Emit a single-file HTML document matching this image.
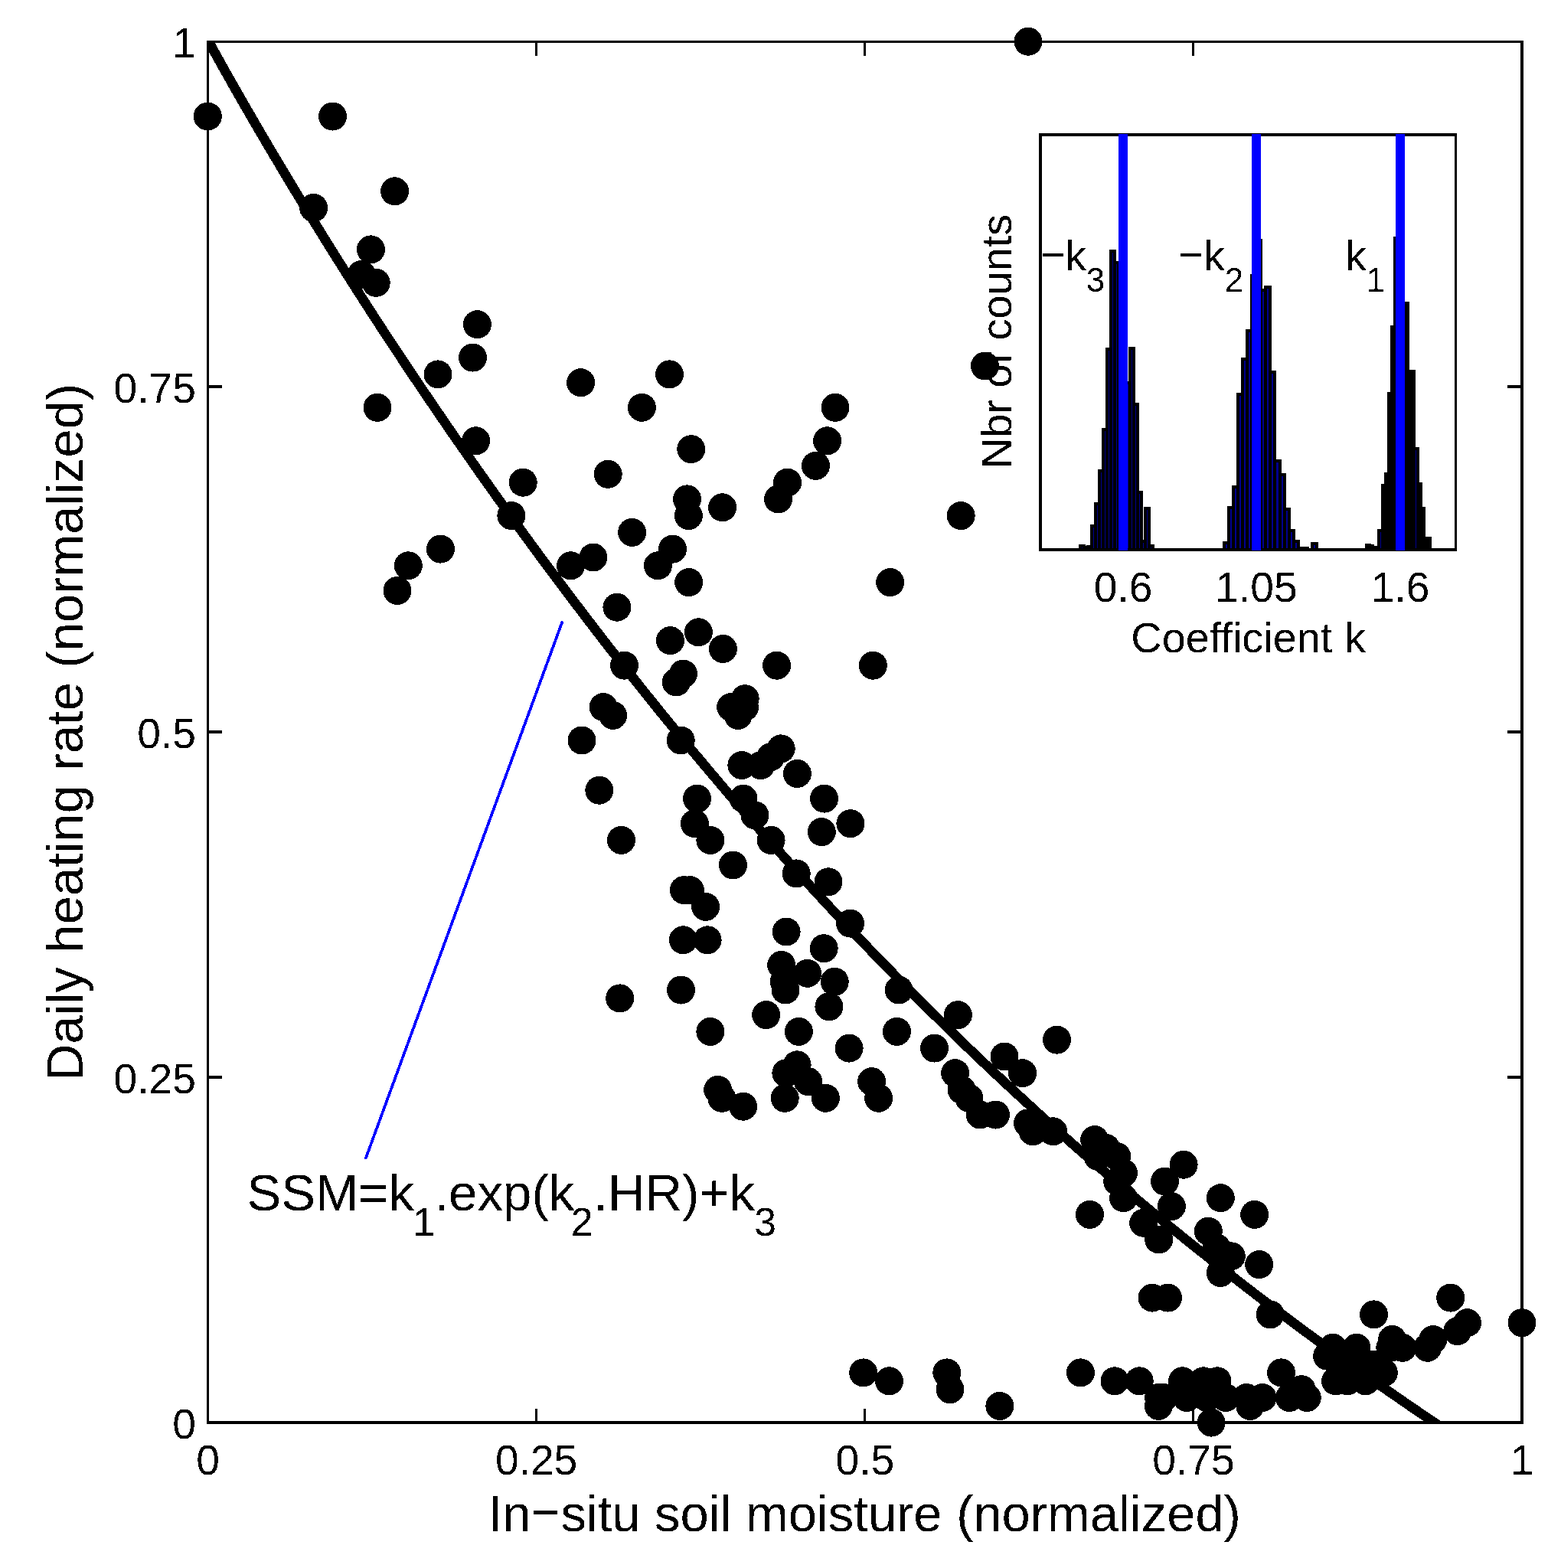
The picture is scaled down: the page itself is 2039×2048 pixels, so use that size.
<!DOCTYPE html>
<html><head><meta charset="utf-8"><title>Soil moisture vs daily heating rate</title>
<style>html,body{margin:0;padding:0;background:#fff}body{width:2039px;height:2048px;overflow:hidden}svg{display:block}</style>
</head><body>
<svg width="2039" height="2048" viewBox="0 0 2039 2048" font-family='"Liberation Sans", Arial, Helvetica, sans-serif' fill="#000">
<rect x="0" y="0" width="2039" height="2048" fill="#fff"/>
<defs><filter id="al" x="-5%" y="-20%" width="110%" height="140%" color-interpolation-filters="sRGB"><feComponentTransfer><feFuncA type="discrete" tableValues="0 1"/></feComponentTransfer></filter></defs>
<clipPath id="cp"><rect x="270" y="53" width="1720" height="1807"/></clipPath>
<path d="M264.7,40.0 L271.4,52.3 L278.3,64.6 L285.1,76.9 L292.0,89.3 L299.0,101.6 L305.9,113.9 L313.0,126.2 L320.0,138.5 L327.2,150.8 L334.3,163.2 L341.5,175.5 L348.8,187.8 L356.0,200.1 L363.4,212.4 L370.7,224.7 L378.1,237.0 L385.6,249.4 L393.1,261.7 L400.6,274.0 L408.2,286.3 L415.8,298.6 L423.4,310.9 L431.1,323.3 L438.8,335.6 L446.6,347.9 L454.4,360.2 L462.2,372.5 L470.1,384.8 L478.0,397.1 L486.0,409.5 L494.0,421.8 L502.0,434.1 L510.1,446.4 L518.3,458.7 L526.4,471.0 L534.6,483.4 L542.9,495.7 L551.2,508.0 L559.5,520.3 L567.9,532.6 L576.3,544.9 L584.7,557.2 L593.2,569.6 L601.8,581.9 L610.4,594.2 L619.0,606.5 L627.6,618.8 L636.4,631.1 L645.1,643.5 L653.9,655.8 L662.8,668.1 L671.7,680.4 L680.6,692.7 L689.6,705.0 L698.6,717.3 L707.7,729.7 L716.9,742.0 L726.0,754.3 L735.3,766.6 L744.6,778.9 L753.9,791.2 L763.3,803.6 L772.7,815.9 L782.2,828.2 L791.7,840.5 L801.3,852.8 L811.0,865.1 L820.7,877.4 L830.5,889.8 L840.3,902.1 L850.2,914.4 L860.1,926.7 L870.1,939.0 L880.2,951.3 L890.3,963.7 L900.5,976.0 L910.8,988.3 L921.1,1000.6 L931.5,1012.9 L941.9,1025.2 L952.4,1037.6 L963.0,1049.9 L973.7,1062.2 L984.4,1074.5 L995.2,1086.8 L1006.1,1099.1 L1017.0,1111.4 L1028.0,1123.8 L1039.1,1136.1 L1050.3,1148.4 L1061.5,1160.7 L1072.9,1173.0 L1084.3,1185.3 L1095.8,1197.7 L1107.4,1210.0 L1119.0,1222.3 L1130.8,1234.6 L1142.6,1246.9 L1154.5,1259.2 L1166.6,1271.5 L1178.7,1283.9 L1190.9,1296.2 L1203.2,1308.5 L1215.6,1320.8 L1228.1,1333.1 L1240.6,1345.4 L1253.3,1357.8 L1266.1,1370.1 L1279.0,1382.4 L1292.0,1394.7 L1305.1,1407.0 L1318.3,1419.3 L1331.6,1431.6 L1345.1,1444.0 L1358.6,1456.3 L1372.3,1468.6 L1386.1,1480.9 L1400.0,1493.2 L1414.0,1505.5 L1428.1,1517.9 L1442.4,1530.2 L1456.7,1542.5 L1471.2,1554.8 L1485.9,1567.1 L1500.6,1579.4 L1515.5,1591.7 L1530.6,1604.1 L1545.7,1616.4 L1561.0,1628.7 L1576.5,1641.0 L1592.1,1653.3 L1607.8,1665.6 L1623.7,1678.0 L1639.7,1690.3 L1655.9,1702.6 L1672.2,1714.9 L1688.7,1727.2 L1705.3,1739.5 L1722.1,1751.8 L1739.0,1764.2 L1756.1,1776.5 L1773.4,1788.8 L1790.8,1801.1 L1808.4,1813.4 L1826.2,1825.7 L1844.2,1838.1 L1862.3,1850.4 L1880.6,1862.7 L1899.1,1875.0" fill="none" stroke="#000" stroke-width="12.6" stroke-linejoin="round" clip-path="url(#cp)" shape-rendering="crispEdges"/>
<line x1="734.7" y1="811.4" x2="477.4" y2="1513.9" stroke="#0000ff" stroke-width="3.7" shape-rendering="crispEdges"/>
<g shape-rendering="crispEdges">
<rect x="270" y="53" width="1720" height="3"/>
<rect x="270" y="1856" width="1720" height="4"/>
<rect x="270" y="53" width="3" height="1807"/>
<rect x="1986" y="53" width="4" height="1807"/>
<rect x="699" y="53" width="3" height="20"/>
<rect x="699" y="1840" width="3" height="20"/>
<rect x="270" y="1405" width="20" height="4"/>
<rect x="1969" y="1405" width="21" height="4"/>
<rect x="1128" y="53" width="3" height="20"/>
<rect x="1128" y="1840" width="3" height="20"/>
<rect x="270" y="954" width="20" height="4"/>
<rect x="1969" y="954" width="21" height="4"/>
<rect x="1557" y="53" width="3" height="20"/>
<rect x="1557" y="1840" width="3" height="20"/>
<rect x="270" y="503" width="20" height="4"/>
<rect x="1969" y="503" width="21" height="4"/>
</g>
<g shape-rendering="crispEdges">
<circle cx="271.3" cy="152.0" r="18.5"/>
<circle cx="434.5" cy="152.0" r="18.5"/>
<circle cx="515.6" cy="249.8" r="18.5"/>
<circle cx="409.6" cy="271.5" r="18.5"/>
<circle cx="484.4" cy="325.9" r="18.5"/>
<circle cx="472.2" cy="358.5" r="18.5"/>
<circle cx="491.2" cy="369.3" r="18.5"/>
<circle cx="623.4" cy="423.7" r="18.5"/>
<circle cx="617.5" cy="467.1" r="18.5"/>
<circle cx="572.0" cy="488.9" r="18.5"/>
<circle cx="493.0" cy="532.3" r="18.5"/>
<circle cx="758.6" cy="499.7" r="18.5"/>
<circle cx="874.5" cy="488.9" r="18.5"/>
<circle cx="838.4" cy="532.3" r="18.5"/>
<circle cx="1091.0" cy="532.3" r="18.5"/>
<circle cx="1343.0" cy="54.2" r="18.5"/>
<circle cx="1286.4" cy="478.0" r="18.5"/>
<circle cx="621.6" cy="575.8" r="18.5"/>
<circle cx="683.2" cy="630.2" r="18.5"/>
<circle cx="667.9" cy="673.6" r="18.5"/>
<circle cx="575.4" cy="717.1" r="18.5"/>
<circle cx="533.3" cy="738.8" r="18.5"/>
<circle cx="519.0" cy="771.4" r="18.5"/>
<circle cx="745.5" cy="738.8" r="18.5"/>
<circle cx="902.8" cy="586.7" r="18.5"/>
<circle cx="1080.6" cy="575.8" r="18.5"/>
<circle cx="1065.5" cy="608.4" r="18.5"/>
<circle cx="1028.6" cy="630.2" r="18.5"/>
<circle cx="1016.6" cy="651.9" r="18.5"/>
<circle cx="794.2" cy="619.3" r="18.5"/>
<circle cx="897.6" cy="651.9" r="18.5"/>
<circle cx="899.4" cy="673.6" r="18.5"/>
<circle cx="943.6" cy="662.8" r="18.5"/>
<circle cx="825.6" cy="695.4" r="18.5"/>
<circle cx="878.6" cy="717.1" r="18.5"/>
<circle cx="859.4" cy="738.8" r="18.5"/>
<circle cx="774.9" cy="728.0" r="18.5"/>
<circle cx="899.7" cy="760.6" r="18.5"/>
<circle cx="1162.7" cy="760.6" r="18.5"/>
<circle cx="1255.2" cy="673.6" r="18.5"/>
<circle cx="805.9" cy="793.2" r="18.5"/>
<circle cx="875.5" cy="836.6" r="18.5"/>
<circle cx="912.4" cy="825.8" r="18.5"/>
<circle cx="944.4" cy="847.5" r="18.5"/>
<circle cx="815.5" cy="869.2" r="18.5"/>
<circle cx="1014.6" cy="869.2" r="18.5"/>
<circle cx="1140.3" cy="869.2" r="18.5"/>
<circle cx="892.4" cy="880.1" r="18.5"/>
<circle cx="883.3" cy="891.0" r="18.5"/>
<circle cx="973.2" cy="912.7" r="18.5"/>
<circle cx="954.7" cy="923.6" r="18.5"/>
<circle cx="964.1" cy="934.4" r="18.5"/>
<circle cx="972.5" cy="923.6" r="18.5"/>
<circle cx="788.2" cy="923.6" r="18.5"/>
<circle cx="800.6" cy="934.4" r="18.5"/>
<circle cx="760.0" cy="967.0" r="18.5"/>
<circle cx="889.2" cy="967.0" r="18.5"/>
<circle cx="1020.2" cy="977.9" r="18.5"/>
<circle cx="968.9" cy="999.6" r="18.5"/>
<circle cx="993.8" cy="999.6" r="18.5"/>
<circle cx="1006.5" cy="988.8" r="18.5"/>
<circle cx="1041.4" cy="1010.5" r="18.5"/>
<circle cx="782.8" cy="1032.2" r="18.5"/>
<circle cx="910.6" cy="1043.1" r="18.5"/>
<circle cx="971.0" cy="1043.1" r="18.5"/>
<circle cx="1076.6" cy="1043.1" r="18.5"/>
<circle cx="986.0" cy="1064.8" r="18.5"/>
<circle cx="907.4" cy="1075.7" r="18.5"/>
<circle cx="927.9" cy="1097.4" r="18.5"/>
<circle cx="1007.1" cy="1097.4" r="18.5"/>
<circle cx="1073.3" cy="1086.6" r="18.5"/>
<circle cx="811.5" cy="1097.4" r="18.5"/>
<circle cx="957.4" cy="1130.0" r="18.5"/>
<circle cx="1040.2" cy="1140.9" r="18.5"/>
<circle cx="1082.0" cy="1151.8" r="18.5"/>
<circle cx="893.4" cy="1162.6" r="18.5"/>
<circle cx="901.4" cy="1162.6" r="18.5"/>
<circle cx="921.6" cy="1184.4" r="18.5"/>
<circle cx="892.4" cy="1227.8" r="18.5"/>
<circle cx="924.1" cy="1227.8" r="18.5"/>
<circle cx="1027.1" cy="1217.0" r="18.5"/>
<circle cx="1076.2" cy="1238.7" r="18.5"/>
<circle cx="1020.7" cy="1260.4" r="18.5"/>
<circle cx="1054.7" cy="1271.3" r="18.5"/>
<circle cx="1024.2" cy="1282.2" r="18.5"/>
<circle cx="1026.0" cy="1293.0" r="18.5"/>
<circle cx="1090.2" cy="1282.2" r="18.5"/>
<circle cx="1082.9" cy="1314.8" r="18.5"/>
<circle cx="809.7" cy="1303.9" r="18.5"/>
<circle cx="889.5" cy="1293.0" r="18.5"/>
<circle cx="1000.7" cy="1325.6" r="18.5"/>
<circle cx="927.9" cy="1347.4" r="18.5"/>
<circle cx="1043.4" cy="1347.4" r="18.5"/>
<circle cx="1041.1" cy="1390.8" r="18.5"/>
<circle cx="1026.9" cy="1401.7" r="18.5"/>
<circle cx="1055.6" cy="1412.6" r="18.5"/>
<circle cx="1025.2" cy="1434.3" r="18.5"/>
<circle cx="1078.4" cy="1434.3" r="18.5"/>
<circle cx="937.7" cy="1423.4" r="18.5"/>
<circle cx="942.8" cy="1434.3" r="18.5"/>
<circle cx="970.7" cy="1445.2" r="18.5"/>
<circle cx="1110.9" cy="1075.7" r="18.5"/>
<circle cx="1110.6" cy="1206.1" r="18.5"/>
<circle cx="1174.1" cy="1293.0" r="18.5"/>
<circle cx="1251.4" cy="1325.6" r="18.5"/>
<circle cx="1171.5" cy="1347.4" r="18.5"/>
<circle cx="1109.1" cy="1369.1" r="18.5"/>
<circle cx="1220.5" cy="1369.1" r="18.5"/>
<circle cx="1380.5" cy="1358.2" r="18.5"/>
<circle cx="1312.0" cy="1380.0" r="18.5"/>
<circle cx="1335.6" cy="1401.7" r="18.5"/>
<circle cx="1247.7" cy="1401.7" r="18.5"/>
<circle cx="1138.6" cy="1412.6" r="18.5"/>
<circle cx="1147.7" cy="1434.3" r="18.5"/>
<circle cx="1256.1" cy="1423.4" r="18.5"/>
<circle cx="1265.9" cy="1434.3" r="18.5"/>
<circle cx="1280.1" cy="1456.0" r="18.5"/>
<circle cx="1300.5" cy="1456.0" r="18.5"/>
<circle cx="1342.5" cy="1466.9" r="18.5"/>
<circle cx="1349.2" cy="1477.8" r="18.5"/>
<circle cx="1375.6" cy="1477.8" r="18.5"/>
<circle cx="1423.5" cy="1586.4" r="18.5"/>
<circle cx="1429.7" cy="1488.6" r="18.5"/>
<circle cx="1444.6" cy="1499.5" r="18.5"/>
<circle cx="1458.8" cy="1510.4" r="18.5"/>
<circle cx="1434.0" cy="1510.4" r="18.5"/>
<circle cx="1467.5" cy="1532.1" r="18.5"/>
<circle cx="1459.7" cy="1543.0" r="18.5"/>
<circle cx="1467.5" cy="1564.7" r="18.5"/>
<circle cx="1546.1" cy="1521.2" r="18.5"/>
<circle cx="1521.5" cy="1543.0" r="18.5"/>
<circle cx="1530.4" cy="1575.6" r="18.5"/>
<circle cx="1594.3" cy="1564.7" r="18.5"/>
<circle cx="1638.7" cy="1586.4" r="18.5"/>
<circle cx="1493.7" cy="1597.3" r="18.5"/>
<circle cx="1513.7" cy="1619.0" r="18.5"/>
<circle cx="1578.3" cy="1608.2" r="18.5"/>
<circle cx="1608.3" cy="1640.8" r="18.5"/>
<circle cx="1589.2" cy="1629.9" r="18.5"/>
<circle cx="1594.3" cy="1662.5" r="18.5"/>
<circle cx="1644.7" cy="1651.6" r="18.5"/>
<circle cx="1505.0" cy="1695.1" r="18.5"/>
<circle cx="1525.5" cy="1695.1" r="18.5"/>
<circle cx="1659.2" cy="1716.9" r="18.5"/>
<circle cx="1127.7" cy="1792.9" r="18.5"/>
<circle cx="1161.5" cy="1803.8" r="18.5"/>
<circle cx="1236.8" cy="1792.9" r="18.5"/>
<circle cx="1241.0" cy="1814.7" r="18.5"/>
<circle cx="1305.9" cy="1836.4" r="18.5"/>
<circle cx="1411.4" cy="1792.9" r="18.5"/>
<circle cx="1456.0" cy="1803.8" r="18.5"/>
<circle cx="1488.2" cy="1803.8" r="18.5"/>
<circle cx="1513.6" cy="1825.5" r="18.5"/>
<circle cx="1520.1" cy="1825.5" r="18.5"/>
<circle cx="1513.4" cy="1836.4" r="18.5"/>
<circle cx="1544.5" cy="1803.8" r="18.5"/>
<circle cx="1572.0" cy="1803.8" r="18.5"/>
<circle cx="1590.0" cy="1803.8" r="18.5"/>
<circle cx="1550.3" cy="1825.5" r="18.5"/>
<circle cx="1576.3" cy="1825.5" r="18.5"/>
<circle cx="1601.2" cy="1825.5" r="18.5"/>
<circle cx="1628.3" cy="1825.5" r="18.5"/>
<circle cx="1649.0" cy="1825.5" r="18.5"/>
<circle cx="1684.4" cy="1825.5" r="18.5"/>
<circle cx="1632.9" cy="1836.4" r="18.5"/>
<circle cx="1582.2" cy="1858.1" r="18.5"/>
<circle cx="1673.6" cy="1792.9" r="18.5"/>
<circle cx="1700.1" cy="1814.7" r="18.5"/>
<circle cx="1707.3" cy="1825.5" r="18.5"/>
<circle cx="1988.0" cy="1727.7" r="18.5"/>
<circle cx="1894.7" cy="1695.1" r="18.5"/>
<circle cx="1794.6" cy="1716.9" r="18.5"/>
<circle cx="1916.5" cy="1727.7" r="18.5"/>
<circle cx="1903.8" cy="1738.6" r="18.5"/>
<circle cx="1871.9" cy="1749.5" r="18.5"/>
<circle cx="1864.6" cy="1760.3" r="18.5"/>
<circle cx="1818.6" cy="1749.5" r="18.5"/>
<circle cx="1831.9" cy="1760.3" r="18.5"/>
<circle cx="1740.9" cy="1760.3" r="18.5"/>
<circle cx="1771.9" cy="1760.3" r="18.5"/>
<circle cx="1733.7" cy="1771.2" r="18.5"/>
<circle cx="1793.7" cy="1782.1" r="18.5"/>
<circle cx="1807.3" cy="1792.9" r="18.5"/>
<circle cx="1744.6" cy="1803.8" r="18.5"/>
<circle cx="1760.0" cy="1803.8" r="18.5"/>
<circle cx="1783.7" cy="1803.8" r="18.5"/>
<circle cx="1761.9" cy="1782.1" r="18.5"/>
<circle cx="1815.8" cy="1760.3" r="18.5"/>
</g>
<g font-size="55.2">
<text filter="url(#al)" x="271.5" y="1926" text-anchor="middle">0</text>
<text filter="url(#al)" x="256" y="1878.5" text-anchor="end">0</text>
<text filter="url(#al)" x="700.6" y="1926" text-anchor="middle">0.25</text>
<text filter="url(#al)" x="256" y="1427.6" text-anchor="end">0.25</text>
<text filter="url(#al)" x="1129.8" y="1926" text-anchor="middle">0.5</text>
<text filter="url(#al)" x="256" y="976.8" text-anchor="end">0.5</text>
<text filter="url(#al)" x="1558.9" y="1926" text-anchor="middle">0.75</text>
<text filter="url(#al)" x="256" y="525.9" text-anchor="end">0.75</text>
<text filter="url(#al)" x="1988.0" y="1926" text-anchor="middle">1</text>
<text filter="url(#al)" x="256" y="75.0" text-anchor="end">1</text>
</g>
<text filter="url(#al)" y="2000.3" font-size="66.9"><tspan x="637.58">In</tspan><tspan x="690.93" dy="-7.1" textLength="43.11" lengthAdjust="spacingAndGlyphs">-</tspan><tspan x="732.45" dy="7.1">situ soil moisture (normalized)</tspan></text>
<text filter="url(#al)" transform="translate(107.8,956.4) rotate(-90)" font-size="66.9" text-anchor="middle">Daily heating rate (normalized)</text>
<text filter="url(#al)" y="1580.7" font-size="67.2"><tspan x="322.5">SSM=k</tspan><tspan x="539.5" dy="33.3" font-size="51.5">1</tspan><tspan x="567.4" dy="-33.3">.exp(k</tspan><tspan x="745.8" dy="33.3" font-size="51.5">2</tspan><tspan x="775.2" dy="-33.3">.HR)+k</tspan><tspan x="985.3" dy="33.3" font-size="51.5">3</tspan></text>
<rect x="1357" y="174.5" width="546" height="545" fill="#fff"/>
<g fill="#00008f" stroke="#000" stroke-width="4" shape-rendering="crispEdges">
<rect x="1411.38" y="712.5" width="4.97" height="5.5"/>
<rect x="1416.36" y="715.0" width="4.97" height="3.0"/>
<rect x="1421.33" y="713.5" width="4.97" height="4.5"/>
<rect x="1426.30" y="686.8" width="4.97" height="31.2"/>
<rect x="1431.27" y="657.6" width="4.97" height="60.4"/>
<rect x="1436.24" y="614.6" width="4.97" height="103.4"/>
<rect x="1441.22" y="560.7" width="4.97" height="157.3"/>
<rect x="1446.19" y="456.4" width="4.97" height="261.6"/>
<rect x="1451.16" y="328.1" width="4.97" height="389.9"/>
<rect x="1456.13" y="343.3" width="4.97" height="374.7"/>
<rect x="1461.10" y="362.0" width="4.97" height="356.0"/>
<rect x="1466.08" y="422.0" width="4.97" height="296.0"/>
<rect x="1471.05" y="500.4" width="4.97" height="217.6"/>
<rect x="1476.02" y="454.5" width="4.97" height="263.5"/>
<rect x="1480.99" y="527.6" width="4.97" height="190.4"/>
<rect x="1485.96" y="642.5" width="4.97" height="75.5"/>
<rect x="1490.94" y="707.0" width="4.97" height="11.0"/>
<rect x="1495.91" y="663.8" width="4.97" height="54.2"/>
<rect x="1500.88" y="712.5" width="4.97" height="5.5"/>
<rect x="1599.40" y="709.2" width="6.01" height="8.8"/>
<rect x="1605.41" y="662.9" width="6.01" height="55.1"/>
<rect x="1611.42" y="635.8" width="6.01" height="82.2"/>
<rect x="1617.42" y="514.5" width="6.01" height="203.5"/>
<rect x="1623.43" y="469.3" width="6.01" height="248.7"/>
<rect x="1629.44" y="431.5" width="6.01" height="286.5"/>
<rect x="1635.45" y="360.3" width="6.01" height="357.7"/>
<rect x="1641.46" y="314.2" width="6.01" height="403.8"/>
<rect x="1647.46" y="379.4" width="6.01" height="338.6"/>
<rect x="1653.47" y="375.4" width="6.01" height="342.6"/>
<rect x="1659.48" y="485.6" width="6.01" height="232.4"/>
<rect x="1665.49" y="602.0" width="6.01" height="116.0"/>
<rect x="1671.50" y="619.5" width="6.01" height="98.5"/>
<rect x="1677.50" y="665.1" width="6.01" height="52.9"/>
<rect x="1683.51" y="692.5" width="6.01" height="25.5"/>
<rect x="1689.52" y="707.4" width="6.01" height="10.6"/>
<rect x="1695.53" y="716.0" width="6.01" height="2.0"/>
<rect x="1701.54" y="716.0" width="6.01" height="2.0"/>
<rect x="1713.55" y="709.7" width="6.01" height="8.3"/>
<rect x="1784.67" y="712.0" width="4.18" height="6.0"/>
<rect x="1788.85" y="713.0" width="4.18" height="5.0"/>
<rect x="1793.03" y="715.0" width="4.18" height="3.0"/>
<rect x="1797.22" y="715.0" width="4.18" height="3.0"/>
<rect x="1801.40" y="692.5" width="4.18" height="25.5"/>
<rect x="1805.58" y="634.2" width="4.18" height="83.8"/>
<rect x="1809.77" y="619.1" width="4.18" height="98.9"/>
<rect x="1813.95" y="514.1" width="4.18" height="203.9"/>
<rect x="1818.13" y="426.6" width="4.18" height="291.4"/>
<rect x="1822.32" y="310.5" width="4.18" height="407.5"/>
<rect x="1826.50" y="332.0" width="4.18" height="386.0"/>
<rect x="1830.68" y="402.0" width="4.18" height="316.0"/>
<rect x="1834.86" y="395.5" width="4.18" height="322.5"/>
<rect x="1839.05" y="500.0" width="4.18" height="218.0"/>
<rect x="1843.23" y="484.5" width="4.18" height="233.5"/>
<rect x="1847.41" y="586.4" width="4.18" height="131.6"/>
<rect x="1851.60" y="632.4" width="4.18" height="85.6"/>
<rect x="1855.78" y="664.3" width="4.18" height="53.7"/>
<rect x="1859.96" y="703.2" width="4.18" height="14.8"/>
<rect x="1864.14" y="703.2" width="4.18" height="14.8"/>
</g>
<g shape-rendering="crispEdges">
<rect x="1357" y="174" width="546" height="4"/>
<rect x="1357" y="716" width="546" height="4"/>
<rect x="1357" y="174" width="4" height="546"/>
<rect x="1900" y="174" width="3" height="546"/>
</g>
<g fill="#0000ff" shape-rendering="crispEdges">
<rect x="1461" y="175" width="12" height="544"/>
<rect x="1635" y="175" width="12" height="544"/>
<rect x="1823" y="175" width="12" height="544"/>
</g>
<g font-size="55.2">
<text filter="url(#al)" x="1467" y="785.5" text-anchor="middle">0.6</text>
<text filter="url(#al)" x="1641" y="785.5" text-anchor="middle">1.05</text>
<text filter="url(#al)" x="1829" y="785.5" text-anchor="middle">1.6</text>
<text filter="url(#al)" x="1630.6" y="851.6" text-anchor="middle" font-size="55.9">Coefficient k</text>
<text filter="url(#al)" transform="translate(1320.8,446) rotate(-90)" text-anchor="middle" font-size="55.9">Nbr of counts</text>
<text filter="url(#al)" y="353"><tspan x="1356.8" dy="-4.7" textLength="37.2" lengthAdjust="spacingAndGlyphs">-</tspan><tspan x="1391.2" dy="4.7">k</tspan><tspan dy="28" font-size="44">3</tspan></text>
<text filter="url(#al)" y="353"><tspan x="1536.9" dy="-4.7" textLength="37.2" lengthAdjust="spacingAndGlyphs">-</tspan><tspan x="1572.1" dy="4.7">k</tspan><tspan dy="28" font-size="44">2</tspan></text>
<text filter="url(#al)" x="1757" y="353">k<tspan dy="28" font-size="44">1</tspan></text>
</g>
</svg>
</body></html>
